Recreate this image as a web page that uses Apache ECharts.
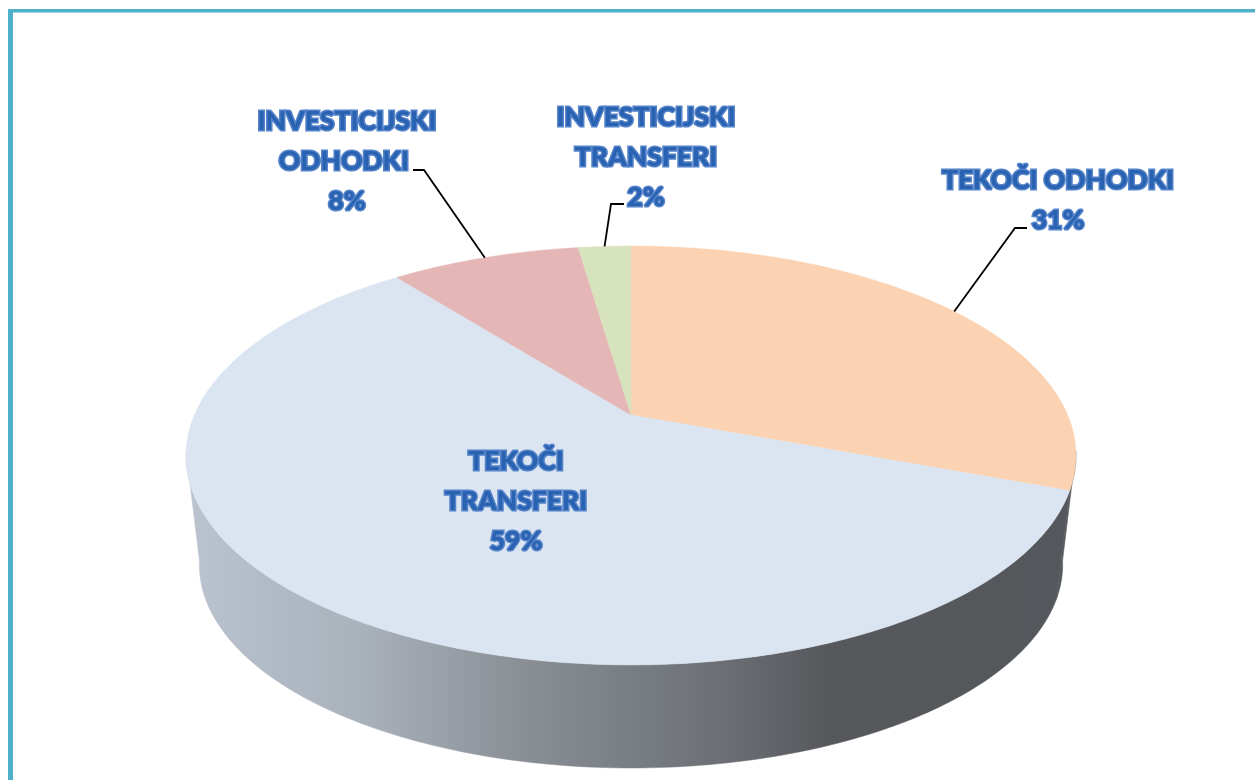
<!DOCTYPE html>
<html>
<head>
<meta charset="utf-8">
<title>Odhodki</title>
<style>
    html, body { margin: 0; padding: 0; background: #fff; }
    #pie3d { width: 1255px; height: 780px; }
</style>
<script src="https://cdn.jsdelivr.net/npm/echarts@6/dist/echarts.min.js"></script>
</head>
<body>
<div id="pie3d"></div>
<script>
// data, clockwise from 12 o'clock
var sliceNames = ['TEKOČI ODHODKI', 'TEKOČI\nTRANSFERI', 'INVESTICIJSKI\nODHODKI ', 'INVESTICIJSKI\nTRANSFERI'];
var sliceValues = [30.7, 58.7, 8.3, 2.3];
var sliceLabels = ['31%', '59%', '8%', '2%'];

var sliceColors = ['#fbd3b2', '#dbe5f1', '#e4b7b6', '#d6e3bc'];

// label centre and leader elbow / end, by slice. no leader for the big slice
var labelBoxes = [
    {x: 1058, y: 200, elbow: [1015, 228], end: [1027, 228]},
    {x: 516, y: 501},
    {x: 347, y: 161, elbow: [424, 170], end: [413, 170]},
    {x: 646, y: 157, elbow: [611, 204], end: [624, 204]}
];

// perspective of the disc, top face and bottom face
var tilt = 0.1933;
var topFace = {cx: 631, cy: 415, rx: 436.6, ry: 201.6};
var bottomFace = {cx: 631, cy: 525.5, rx: 423.5, ry: 195.6};

// only this part of the wall can be seen
var wallFrom = 100 / 180 * Math.PI;
var wallTo = 260 / 180 * Math.PI;

var total = sliceValues.reduce(function (a, b) { return a + b; }, 0);

function project(face, angle) {
    var u = Math.sin(angle), v = Math.cos(angle);
    var d = 1 + tilt * v;
    return [face.cx + face.rx * u / d, face.cy - face.ry * v / d];
}

function sliceAngles(index, value) {
    var before = 0;
    for (var i = 0; i < index; i++) {
        before += sliceValues[i];
    }
    return [before / total * Math.PI * 2, (before + value) / total * Math.PI * 2];
}

function arcPoints(face, from, to) {
    var pts = [];
    var n = Math.max(2, Math.ceil((to - from) * 60));
    for (var i = 0; i <= n; i++) {
        pts.push(project(face, from + (to - from) * i / n));
    }
    return pts;
}

var wallFill = new echarts.graphic.LinearGradient(186, 0, 1076, 0, [
    {offset: 0, color: '#bac3ce'},
    {offset: 0.2, color: '#a9b1bb'},
    {offset: 0.36, color: '#8d9299'},
    {offset: 0.5, color: '#797e85'},
    {offset: 0.6, color: '#6c7075'},
    {offset: 0.72, color: '#56585c'},
    {offset: 1, color: '#54575b'}
], true);

var dom = document.getElementById('pie3d');
var myChart = echarts.init(dom);

var option = {
    backgroundColor: '#ffffff',
    animation: false,
    graphic: [
        {type: 'rect', shape: {x: 8, y: 9, width: 1247, height: 3.5}, style: {fill: '#4fb0c9'}},
        {type: 'rect', shape: {x: 8, y: 9, width: 5, height: 771}, style: {fill: '#4fb0c9'}}
    ],
    series: [
        {
            // side wall
            type: 'custom',
            coordinateSystem: 'none',
            silent: true,
            z: 1,
            data: sliceValues,
            renderItem: function (params, api) {
                var a = sliceAngles(params.dataIndex, api.value(0));
                var from = Math.max(a[0], wallFrom);
                var to = Math.min(a[1], wallTo);
                if (to <= from) {
                    return {type: 'group', children: []};
                }
                var pts = arcPoints(topFace, from, to).concat(arcPoints(bottomFace, from, to).reverse());
                return {
                    type: 'polygon',
                    shape: {points: pts},
                    style: {fill: wallFill, stroke: wallFill, lineWidth: 0.5}
                };
            }
        },
        {
            // top face
            type: 'custom',
            coordinateSystem: 'none',
            silent: true,
            z: 2,
            data: sliceValues,
            renderItem: function (params, api) {
                var a = sliceAngles(params.dataIndex, api.value(0));
                var pts = arcPoints(topFace, a[0], a[1]);
                pts.push([topFace.cx, topFace.cy]);
                var color = sliceColors[params.dataIndex];
                return {
                    type: 'polygon',
                    shape: {points: pts},
                    style: {fill: color, stroke: color, lineWidth: 0.5}
                };
            }
        },
        {
            // labels and leader lines
            type: 'custom',
            coordinateSystem: 'none',
            silent: true,
            z: 3,
            data: sliceValues,
            renderItem: function (params, api) {
                var i = params.dataIndex;
                var box = labelBoxes[i];
                var a = sliceAngles(i, api.value(0));
                var children = [];
                if (box.elbow) {
                    children.push({
                        type: 'polyline',
                        shape: {points: [project(topFace, (a[0] + a[1]) / 2), box.elbow, box.end]},
                        style: {fill: null, stroke: '#000000', lineWidth: 1.8}
                    });
                }
                children.push({
                    type: 'text',
                    x: box.x,
                    y: box.y,
                    style: {
                        text: sliceNames[i] + '\n' + sliceLabels[i],
                        fontFamily: 'Lato',
                        fontWeight: 900,
                        fontSize: 26.5,
                        lineHeight: 40,
                        align: 'center',
                        verticalAlign: 'middle',
                        fill: '#2a62b2',
                        stroke: '#5584ca',
                        lineWidth: 3,
                        lineJoin: 'round'
                    }
                });
                return {type: 'group', children: children};
            }
        }
    ]
};

if (option && typeof option === 'object') {
    myChart.setOption(option, true);
}
</script>
</body>
</html>
